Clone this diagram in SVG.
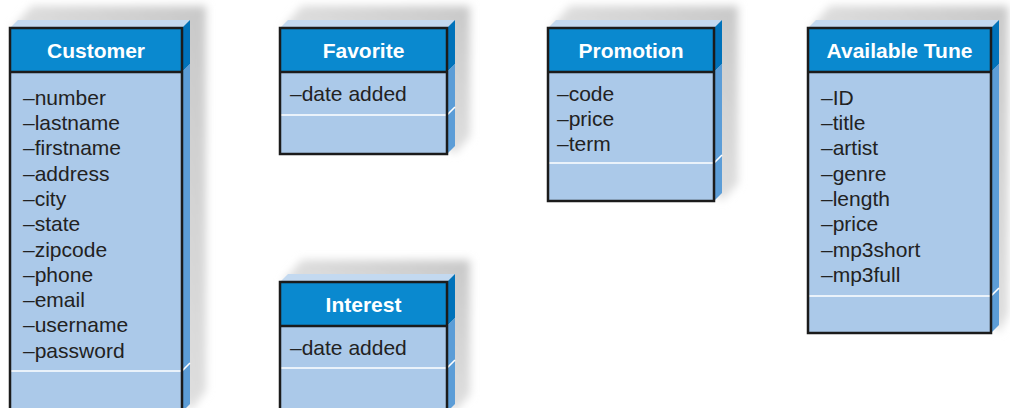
<svg xmlns="http://www.w3.org/2000/svg" width="1010" height="408" viewBox="0 0 1010 408">
<style>
.top{fill:#c3d9f0}
.sideh{fill:#0072ba}
.sideb{fill:#5c9dd7}
.hdr{fill:#0a89cf}
.body{fill:#abc9e9}
.out{fill:none;stroke:#1b1b1b;stroke-width:2.5}
.div{stroke:#1b1b1b;stroke-width:2.5}
.sep{stroke:#ffffff;stroke-width:1.6;fill:none}
.shadow{fill:url(#sg);filter:url(#blur)}
.title{font-family:"Liberation Sans",Arial,sans-serif;font-weight:bold;font-size:21px;fill:#ffffff;text-anchor:middle}
.attr{font-family:"Liberation Sans",Arial,sans-serif;font-size:21px;fill:#222222}
</style>
<defs>
<linearGradient id="sg" x1="1" y1="0" x2="0" y2="1">
<stop offset="0" stop-color="#c8c8c8"/>
<stop offset="1" stop-color="#f2f2f2"/>
</linearGradient>
<filter id="blur" x="-20%" y="-20%" width="140%" height="140%">
<feGaussianBlur stdDeviation="4"/>
</filter>
</defs>
<rect width="1010" height="408" fill="#ffffff"/>
<g id="connectors"/>

<g id="customer">
<polygon class="shadow" points="12,28 32,6 206,6 206,390 190,412"/>
<polygon class="top" points="10,28 18,20 190,20 182,28"/>
<polygon class="sideh" points="182,28 190,20 190,64 182,72"/>
<polygon class="sideb" points="182,72 190,64 190,404 182,412"/>
<rect class="hdr" x="10" y="28" width="172" height="44"/>
<rect class="body" x="10" y="72" width="172" height="340"/>
<path class="sep" d="M10,371H182L190,363"/>
<rect class="out" x="10" y="28" width="172" height="384"/>
<line class="div" x1="10" y1="72" x2="182" y2="72"/>
<text class="title" x="96" y="57.5">Customer</text>
<text class="attr" x="23" y="104.8">–number</text>
<text class="attr" x="23" y="130.1">–lastname</text>
<text class="attr" x="23" y="155.3">–firstname</text>
<text class="attr" x="23" y="180.6">–address</text>
<text class="attr" x="23" y="205.9">–city</text>
<text class="attr" x="23" y="231.2">–state</text>
<text class="attr" x="23" y="256.5">–zipcode</text>
<text class="attr" x="23" y="281.8">–phone</text>
<text class="attr" x="23" y="307.1">–email</text>
<text class="attr" x="23" y="332.3">–username</text>
<text class="attr" x="23" y="357.6">–password</text>
</g>

<g id="favorite">
<polygon class="shadow" points="282,28 302,6 470,6 470,136 455,154"/>
<polygon class="top" points="280,28 288,20 455,20 447,28"/>
<polygon class="sideh" points="447,28 455,20 455,64 447,72"/>
<polygon class="sideb" points="447,72 455,64 455,146 447,154"/>
<rect class="hdr" x="280" y="28" width="167" height="44"/>
<rect class="body" x="280" y="72" width="167" height="82"/>
<path class="sep" d="M280,115H447L455,107"/>
<rect class="out" x="280" y="28" width="167" height="126"/>
<line class="div" x1="280" y1="72" x2="447" y2="72"/>
<text class="title" x="363.5" y="57.5">Favorite</text>
<text class="attr" x="290" y="100.8">–date added</text>
</g>

<g id="promotion">
<polygon class="shadow" points="550,28 570,6 738,6 738,183 722,201"/>
<polygon class="top" points="548,28 556,20 722,20 714,28"/>
<polygon class="sideh" points="714,28 722,20 722,64 714,72"/>
<polygon class="sideb" points="714,72 722,64 722,193 714,201"/>
<rect class="hdr" x="548" y="28" width="166" height="44"/>
<rect class="body" x="548" y="72" width="166" height="129"/>
<path class="sep" d="M548,163H714L722,155"/>
<rect class="out" x="548" y="28" width="166" height="173"/>
<line class="div" x1="548" y1="72" x2="714" y2="72"/>
<text class="title" x="631" y="57.5">Promotion</text>
<text class="attr" x="557" y="100.8">–code</text>
<text class="attr" x="557" y="126.1">–price</text>
<text class="attr" x="557" y="151.3">–term</text>
</g>

<g id="available-tune">
<polygon class="shadow" points="810,28 830,6 1008,6 1008,314 999,333"/>
<polygon class="top" points="808,28 816,20 999,20 991,28"/>
<polygon class="sideh" points="991,28 999,20 999,64 991,72"/>
<polygon class="sideb" points="991,72 999,64 999,325 991,333"/>
<rect class="hdr" x="808" y="28" width="183" height="44"/>
<rect class="body" x="808" y="72" width="183" height="261"/>
<path class="sep" d="M808,296H991L999,288"/>
<rect class="out" x="808" y="28" width="183" height="305"/>
<line class="div" x1="808" y1="72" x2="991" y2="72"/>
<text class="title" x="899.5" y="57.5">Available Tune</text>
<text class="attr" x="821" y="104.8">–ID</text>
<text class="attr" x="821" y="130.1">–title</text>
<text class="attr" x="821" y="155.3">–artist</text>
<text class="attr" x="821" y="180.6">–genre</text>
<text class="attr" x="821" y="205.9">–length</text>
<text class="attr" x="821" y="231.2">–price</text>
<text class="attr" x="821" y="256.5">–mp3short</text>
<text class="attr" x="821" y="281.8">–mp3full</text>
</g>

<g id="interest">
<polygon class="shadow" points="282,282 302,260 470,260 470,394 455,412"/>
<polygon class="top" points="280,282 288,274 455,274 447,282"/>
<polygon class="sideh" points="447,282 455,274 455,318 447,326"/>
<polygon class="sideb" points="447,326 455,318 455,404 447,412"/>
<rect class="hdr" x="280" y="282" width="167" height="44"/>
<rect class="body" x="280" y="326" width="167" height="86"/>
<path class="sep" d="M280,368H447L455,360"/>
<rect class="out" x="280" y="282" width="167" height="130"/>
<line class="div" x1="280" y1="326" x2="447" y2="326"/>
<text class="title" x="363.5" y="311.5">Interest</text>
<text class="attr" x="290" y="354.8">–date added</text>
</g>
</svg>
